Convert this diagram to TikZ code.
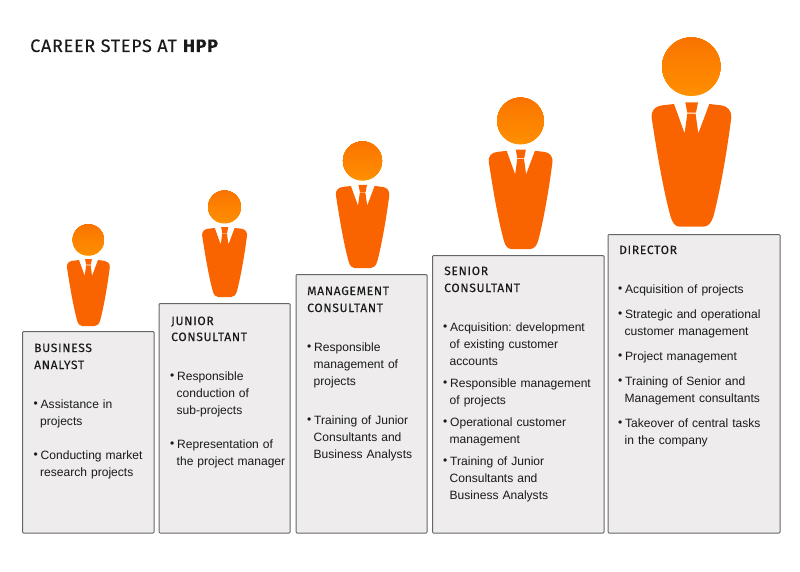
\documentclass[tikz,border=0pt]{standalone}
\usepackage{fontspec}
\setmainfont{Liberation Sans}
\newfontfamily\headfont[LetterSpace=6,FakeBold=0.15]{Fira Sans}
\newfontfamily\titlefont[LetterSpace=4,FakeBold=0.15]{Fira Sans}
\definecolor{hppbody}{HTML}{FA6400}
\definecolor{hpptop}{HTML}{FF9400}
\definecolor{hppbot}{HTML}{FA7000}
\definecolor{boxfill}{HTML}{EEECED}
\definecolor{boxline}{HTML}{666666}
\definecolor{txt}{HTML}{1A1A1A}
\newcommand{\bul}[1]{\makebox[7pt][l]{\raisebox{0.2pt}{\fontsize{12}{12}\selectfont•}}#1}
\newcommand{\cont}[1]{\hspace*{6.5pt}#1}
\newcommand{\person}[4]{% name, x, y, scale
  \begin{scope}[shift={(#2,#3)},scale=#4]
    \fill[hpptop] (0,0) circle (29.2);
    \foreach \ang/\mixv in {80/6,70/12,60/18,50/24,40/30,30/36,20/42,10/48,0/54,-10/60,-20/66,-30/72,-40/78,-50/84,-60/90,-70/96}{
      \fill[hppbot!\mixv!hpptop] (\ang:29.2) arc[start angle=\ang,end angle=-180-\ang,radius=29.2] -- cycle;
    }
    \fill[hppbody] (-17.3,37.3) -- (-6.7,66.7) -- (-4,47) -- (4.3,47) -- (7,66.7) -- (18,37.3)
      -- (30.3,38.7) .. controls (36,39.5) and (40.5,44) .. (40,50.7)
      .. controls (37,75) and (30,120) .. (22,150)
      .. controls (20,156) and (17,160) .. (12,160) -- (-11.3,160)
      .. controls (-16,160) and (-19,156) .. (-20.7,150)
      .. controls (-29,120) and (-36,75) .. (-39.7,50.7)
      .. controls (-40.5,44) and (-36,39.5) .. (-29.7,38.7) -- cycle;
    \fill[hppbody] (-6,35.7) -- (6.7,35.7) -- (4.7,46) -- (-4,46) -- cycle;
  \end{scope}}
\tikzset{
  x=1pt,y=-1pt,
  stepbox/.style={draw=boxline,fill=boxfill,line width=1pt,rounded corners=1pt},
  heading/.style={anchor=base west,inner sep=0pt,text=txt,font=\headfont\fontsize{12}{17}\selectfont,align=left},
  item/.style={anchor=base west,inner sep=0pt,text=txt,text width=170pt,font=\frenchspacing\fontsize{12.05}{17}\selectfont,align=left},
}
\begin{document}
\begin{tikzpicture}
\useasboundingbox (0,0) rectangle (800,572);
\fill[white] (0,0) rectangle (800,572);
\node[anchor=base west,inner sep=0pt,text=txt] (title) at (30,52) {\titlefont\fontsize{18}{20}\selectfont CAREER STEPS AT \textbf{HPP}};

\person{pa}{88.3}{240}{0.5375}
\person{pb}{224.5}{207}{0.5625}
\person{pc}{362.5}{161}{0.67}
\person{pd}{520.5}{121}{0.8}
\person{pe}{691.3}{66.7}{1}

\draw[stepbox] (22.5,331.5) rectangle (154,533);
\draw[stepbox] (159,303.5) rectangle (290,533);
\draw[stepbox] (296,274.5) rectangle (427,533);
\draw[stepbox] (432.5,255.5) rectangle (604,533);
\draw[stepbox] (608,234.5) rectangle (780,533);

% Business analyst
\node[heading] (h1a) at (34,352) {BUSINESS};
\node[heading] (h1b) at (34,369) {ANALYST};
\node[item] (a1) at (33.5,408) {\bul{Assistance in}\\\cont{projects}};
\node[item] (a2) at (33.5,459) {\bul{Conducting market}\\\cont{research projects}};
% Junior consultant
\node[heading] (h2a) at (171,325) {JUNIOR};
\node[heading] (h2b) at (171,341) {CONSULTANT};
\node[item] (b1) at (170,380) {\bul{Responsible}\\\cont{conduction of}\\\cont{sub-projects}};
\node[item] (b2) at (170,448) {\bul{Representation of}\\\cont{the project manager}};
% Management consultant
\node[heading] (h3a) at (307,295) {MANAGEMENT};
\node[heading] (h3b) at (307,312) {CONSULTANT};
\node[item] (c1) at (307,351) {\bul{Responsible}\\\cont{management of}\\\cont{projects}};
\node[item] (c2) at (307,424) {\bul{Training of Junior}\\\cont{Consultants and}\\\cont{Business Analysts}};
% Senior consultant
\node[heading] (h4a) at (444,275) {SENIOR};
\node[heading] (h4b) at (444,292) {CONSULTANT};
\node[item] (d1) at (443,331) {\bul{Acquisition: development}\\\cont{of existing customer}\\\cont{accounts}};
\node[item] (d2) at (443,387) {\bul{Responsible management}\\\cont{of projects}};
\node[item] (d3) at (443,426) {\bul{Operational customer}\\\cont{management}};
\node[item] (d4) at (443,465) {\bul{Training of Junior}\\\cont{Consultants and}\\\cont{Business Analysts}};
% Director
\node[heading] (h5a) at (619,254) {DIRECTOR};
\node[item] (e1) at (618,293) {\bul{Acquisition of projects}};
\node[item] (e2) at (618,318) {\bul{Strategic and operational}\\\cont{customer management}};
\node[item] (e3) at (618,360) {\bul{Project management}};
\node[item] (e4) at (618,385) {\bul{Training of Senior and}\\\cont{Management consultants}};
\node[item] (e5) at (618,427) {\bul{Takeover of central tasks}\\\cont{in the company}};
\end{tikzpicture}
\end{document}
